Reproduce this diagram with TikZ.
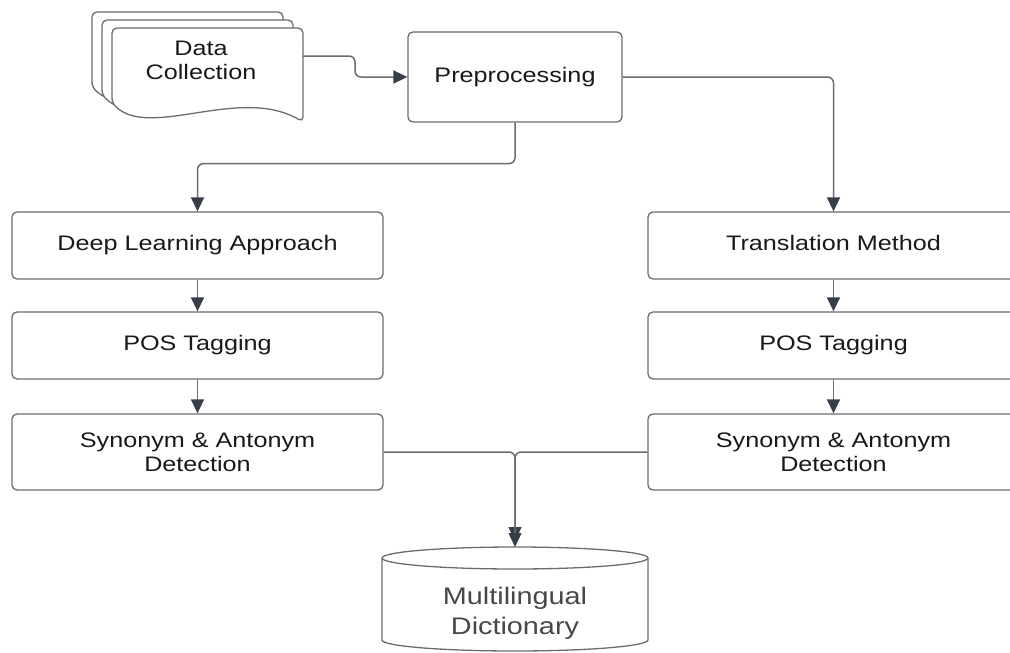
\documentclass[tikz,border=0pt]{standalone}
\usepackage{fontspec}
\setmainfont{Liberation Sans}[FakeStretch=1.2]
\usetikzlibrary{arrows.meta}
\definecolor{linec}{RGB}{105,108,114}
\definecolor{arrowc}{RGB}{55,62,74}
\definecolor{textc}{RGB}{25,25,25}
\definecolor{dictc}{RGB}{70,72,76}
\newcommand{\docpath}[2]{%
  \filldraw[docstyle,shift={(#1,#2)}] (112,103) -- (112,28) -- (303,28) -- (303,122)
    .. controls (240,85) and (150,140) .. (112,103) -- cycle;}
\begin{document}
\begin{tikzpicture}[x=1pt,y=-1pt,
  box/.style={draw=linec, line width=1.3pt, rounded corners=5pt, fill=white,
    minimum width=371pt, inner sep=0pt, text=textc,
    font=\fontsize{21}{24}\selectfont, align=center},
  oneline/.style={text height=15.2pt, text depth=4.4pt},
  docstyle/.style={draw=linec, line width=1.3pt, fill=white, rounded corners=5pt},
  conn/.style={draw=linec, line width=1.5pt, rounded corners=6pt,
    -{Triangle[length=14pt,width=13pt,color=arrowc]}},
  lbl/.style={text=textc, font=\fontsize{21}{24}\selectfont, align=center, inner sep=0pt}]
\useasboundingbox (0,0) rectangle (1010,653);
\clip (0,0) rectangle (1010,653);
\fill[white] (0,0) rectangle (1010,653);

% documents
\docpath{-20}{-16}
\docpath{-10}{-8}
\docpath{0}{0}
\node[lbl] (dc) at (201,60) {Data\\Collection};
\coordinate (docout) at (303,56);

% boxes
\node[box, oneline, minimum width=214pt, minimum height=90pt] (pre) at (515,77) {Preprocessing};
\node[box, oneline, minimum height=67pt] (dl) at (197.5,245.5) {Deep Learning Approach};
\node[box, oneline, minimum height=67pt] (pl) at (197.5,345.5) {POS Tagging};
\node[box, minimum height=76pt] (sl) at (197.5,452) {Synonym \& Antonym\\Detection};
\node[box, oneline, minimum height=67pt] (tm) at (833.5,245.5) {Translation Method};
\node[box, oneline, minimum height=67pt] (pr) at (833.5,345.5) {POS Tagging};
\node[box, minimum height=76pt] (sr) at (833.5,452) {Synonym \& Antonym\\Detection};

% cylinder
\filldraw[draw=linec, line width=1.3pt, fill=white]
  (382,558) -- (382,640) arc[start angle=180, end angle=360, x radius=133pt, y radius=11pt]
  -- (648,558) arc[start angle=0, end angle=180, x radius=133pt, y radius=11pt] -- cycle;
\draw[linec, line width=1.3pt] (382,558) arc[start angle=180, end angle=360, x radius=133pt, y radius=11pt];
\coordinate (dicttop) at (515,547);
\coordinate (dicttop2) at (515,541);
\node[text=dictc, font=\fontsize{24}{30}\selectfont, align=center, inner sep=0pt] (dict) at (515,613) {Multilingual\\Dictionary};

% connectors
\draw[conn] (docout) -- (355,56) |- (pre.west);
\draw[conn] (pre.south) -- ++(0,41) -| (dl.north);
\draw[conn] (pre.east) -| (tm.north);
\draw[conn] (dl.south) -- (pl.north);
\draw[conn] (pl.south) -- (sl.north);
\draw[conn] (tm.south) -- (pr.north);
\draw[conn] (pr.south) -- (sr.north);
\draw[conn] (sl.east) -| (dicttop2);
\draw[conn] (sr.west) -| (dicttop);
\end{tikzpicture}
\end{document}
